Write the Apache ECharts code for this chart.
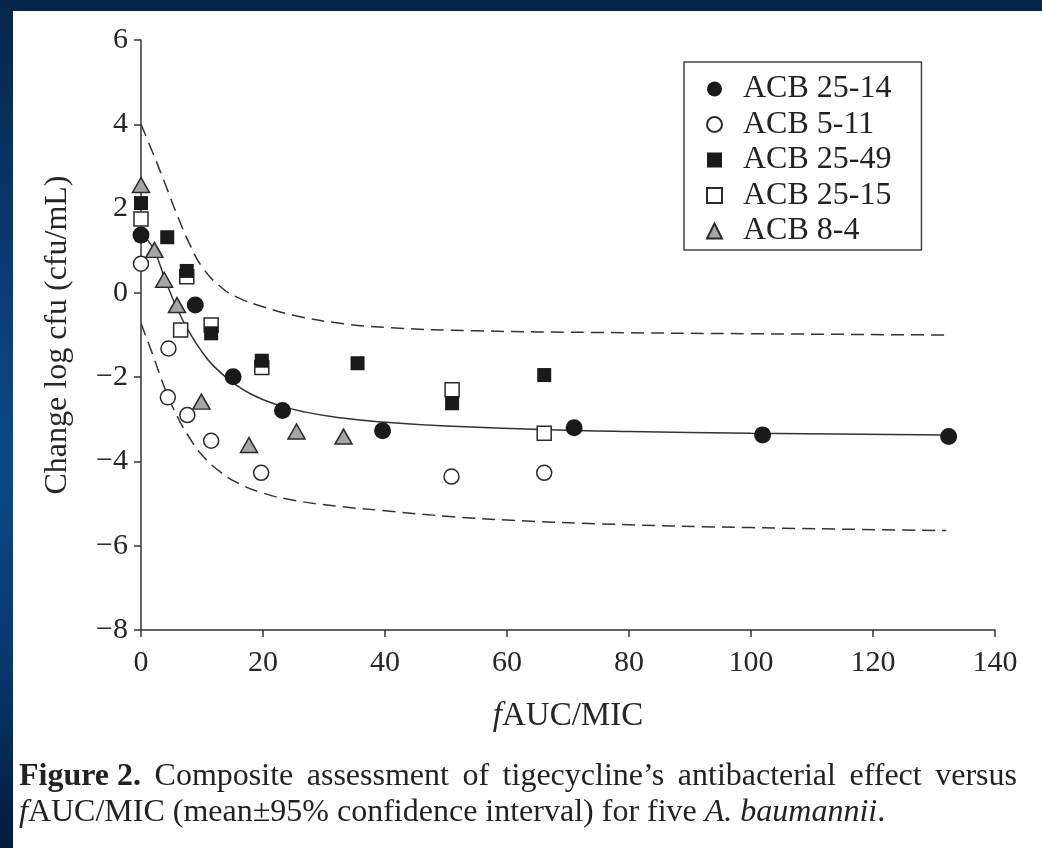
<!DOCTYPE html>
<html><head><meta charset="utf-8">
<script src="https://cdn.jsdelivr.net/npm/echarts@6/dist/echarts.min.js"></script>
<style>
html,body{margin:0;padding:0;width:1042px;height:848px;overflow:hidden;
background:linear-gradient(to bottom,#072549 0%,#0b3d78 35%,#0c4886 55%,#08386e 78%,#031a3c 100%);}
#panel{position:absolute;left:13px;top:11px;width:1029px;height:837px;background:#fff;}
#c{position:absolute;left:0;top:0;width:1042px;height:848px;}
</style></head><body><div id="panel"></div><div id="c"></div>
<script>
// ---- data ----
const seriesNames = ['ACB 25-14', 'ACB 5-11', 'ACB 25-49', 'ACB 25-15', 'ACB 8-4'];

const acb2514X = [0, 8.9, 15.1, 23.2, 39.6, 71.0, 101.9, 132.4];
const acb2514Y = [1.37, -0.29, -1.99, -2.79, -3.27, -3.20, -3.37, -3.41];

const acb511X = [0, 4.5, 4.4, 7.6, 11.5, 19.7, 50.9, 66.1];
const acb511Y = [0.69, -1.32, -2.48, -2.90, -3.51, -4.27, -4.36, -4.27];

const acb2549X = [0, 4.3, 7.5, 11.5, 19.8, 35.5, 51.0, 66.1];
const acb2549Y = [2.13, 1.32, 0.52, -0.96, -1.61, -1.67, -2.62, -1.95];

const acb2515X = [0, 7.5, 6.5, 11.5, 19.8, 51.0, 66.1];
const acb2515Y = [1.75, 0.38, -0.88, -0.76, -1.77, -2.30, -3.33];

const acb84X = [0, 2.2, 3.8, 5.9, 9.9, 17.7, 25.5, 33.2];
const acb84Y = [2.56, 1.02, 0.31, -0.29, -2.58, -3.61, -3.29, -3.41];

// fitted mean curve and 95% confidence bounds
const meanX = [0, 2, 4, 6, 8, 10, 12, 15, 18, 22, 27, 33, 40, 50, 65, 80, 100, 132];
const meanY = [1.42, 1.05, 0.3, -0.4, -0.95, -1.4, -1.75, -2.12, -2.4, -2.64, -2.83, -2.97, -3.07, -3.16, -3.24, -3.29, -3.33, -3.37];

const upperX = [0, 2, 4, 6, 8, 10, 13, 16, 20, 25, 32, 40, 55, 75, 100, 132];
const upperY = [4.0, 3.3, 2.57, 1.82, 1.15, 0.62, 0.15, -0.12, -0.33, -0.53, -0.71, -0.82, -0.9, -0.94, -0.97, -1.0];

const lowerX = [0, 2, 4, 6, 8, 10, 13, 16, 20, 25, 32, 40, 50, 60, 75, 100, 132];
const lowerY = [-0.72, -1.5, -2.3, -2.95, -3.45, -3.85, -4.25, -4.52, -4.75, -4.92, -5.06, -5.17, -5.3, -5.39, -5.48, -5.57, -5.64];

const xTicks = [0, 20, 40, 60, 80, 100, 120, 140];
const yTicks = [-8, -6, -4, -2, 0, 2, 4, 6];

const captionLine1Words = ['Composite', 'assessment', 'of', 'tigecycline\u2019s', 'antibacterial', 'effect', 'versus'];
const captionLine2 = 'AUC/MIC (mean\u00b195% confidence interval) for five ';

// ---- build ----
const pairs = (xs, ys) => xs.map((x, i) => [x, ys[i]]);
const SERIF = '"Liberation Serif","DejaVu Serif",serif';
const INK = '#1a1a1a';
const LINE = '#333333';
const TXT = '#262626';

const chart = echarts.init(document.getElementById('c'), null, {renderer: 'canvas'});

const lineSeries = (name, xs, ys, dashed) => ({
  name, type: 'line', data: pairs(xs, ys), showSymbol: false, symbol: 'none',
  smooth: 0.5, silent: true, z: 1,
  lineStyle: {color: LINE, width: 1.5, type: dashed ? [13, 7] : 'solid'}
});

const SP = '{s| }';
const line1 = '{b|Figure 2.}' + SP + captionLine1Words.join(SP);

chart.setOption({
  animation: false,
  backgroundColor: 'transparent',
  grid: {left: 141, right: 47, top: 40, bottom: 218, containLabel: false},
  xAxis: {
    type: 'value', min: xTicks[0], max: xTicks[xTicks.length - 1], interval: 20,
    name: '{i|f}AUC/MIC', nameLocation: 'middle', nameGap: 70,
    nameTextStyle: {fontFamily: SERIF, fontSize: 33, color: TXT,
      rich: {i: {fontFamily: SERIF, fontSize: 33, fontStyle: 'italic', color: TXT}}},
    axisLine: {show: true, onZero: false, lineStyle: {color: LINE, width: 1.5}},
    axisTick: {show: true, inside: false, length: 7, lineStyle: {color: LINE, width: 1.5}},
    axisLabel: {margin: 18, fontFamily: SERIF, fontSize: 30, color: TXT},
    splitLine: {show: false}
  },
  yAxis: {
    type: 'value', min: yTicks[0], max: yTicks[yTicks.length - 1], interval: 2,
    name: 'Change log cfu (cfu/mL)', nameLocation: 'middle', nameGap: 67, nameRotate: 90,
    nameTextStyle: {fontFamily: SERIF, fontSize: 32, color: TXT},
    axisLine: {show: true, onZero: false, lineStyle: {color: LINE, width: 1.5}},
    axisTick: {show: true, inside: false, length: 7, lineStyle: {color: LINE, width: 1.5}},
    axisLabel: {margin: 13, fontFamily: SERIF, fontSize: 30, color: TXT,
      formatter: v => (v < 0 ? '\u2212' + Math.abs(v) : String(v))},
    splitLine: {show: false}
  },
  legend: {
    data: seriesNames, orient: 'vertical', left: 684, top: 62,
    padding: [11, 30, 3, 22], itemWidth: 15, itemHeight: 15, itemGap: 3.5,
    borderColor: '#444', borderWidth: 1.5, backgroundColor: '#fff',
    textStyle: {fontFamily: SERIF, fontSize: 32, color: '#222', padding: [0, 0, 0, 16]},
    selectedMode: false
  },
  graphic: [
    {type: 'text', left: 19, top: 761, silent: true,
      style: {text: line1, fontFamily: SERIF, fontSize: 32, fill: '#222',
        rich: {b: {fontFamily: SERIF, fontSize: 32, fontWeight: 'bold', fill: '#222'},
               s: {fontFamily: SERIF, fontSize: 32, width: 13.5}}}},
    {type: 'text', left: 19, top: 797, silent: true,
      style: {text: '{i|f}' + captionLine2 + '{i|A. baumannii}.', fontFamily: SERIF, fontSize: 32, fill: '#222',
        rich: {i: {fontFamily: SERIF, fontSize: 32, fontStyle: 'italic', fill: '#222'}}}}
  ],
  series: [
    lineSeries('upper', upperX, upperY, true),
    lineSeries('lower', lowerX, lowerY, true),
    lineSeries('mean', meanX, meanY, false),
    {name: seriesNames[4], type: 'scatter', data: pairs(acb84X, acb84Y), symbol: 'triangle',
      symbolSize: [17, 15], z: 3, itemStyle: {color: '#a6a6a6', borderColor: '#2a2a2a', borderWidth: 1.5, opacity: 1}},
    {name: seriesNames[1], type: 'scatter', data: pairs(acb511X, acb511Y), symbol: 'circle',
      symbolSize: 15, z: 3, itemStyle: {color: '#fff', borderColor: '#2a2a2a', borderWidth: 1.5, opacity: 1}},
    {name: seriesNames[3], type: 'scatter', data: pairs(acb2515X, acb2515Y), symbol: 'rect',
      symbolSize: 14, z: 4, itemStyle: {color: '#fff', borderColor: '#2a2a2a', borderWidth: 1.5, opacity: 1}},
    {name: seriesNames[2], type: 'scatter', data: pairs(acb2549X, acb2549Y), symbol: 'rect',
      symbolSize: 14, z: 5, itemStyle: {color: INK, opacity: 1}},
    {name: seriesNames[0], type: 'scatter', data: pairs(acb2514X, acb2514Y), symbol: 'circle',
      symbolSize: 17, z: 6, itemStyle: {color: INK, opacity: 1}}
  ]
});
</script></body></html>
